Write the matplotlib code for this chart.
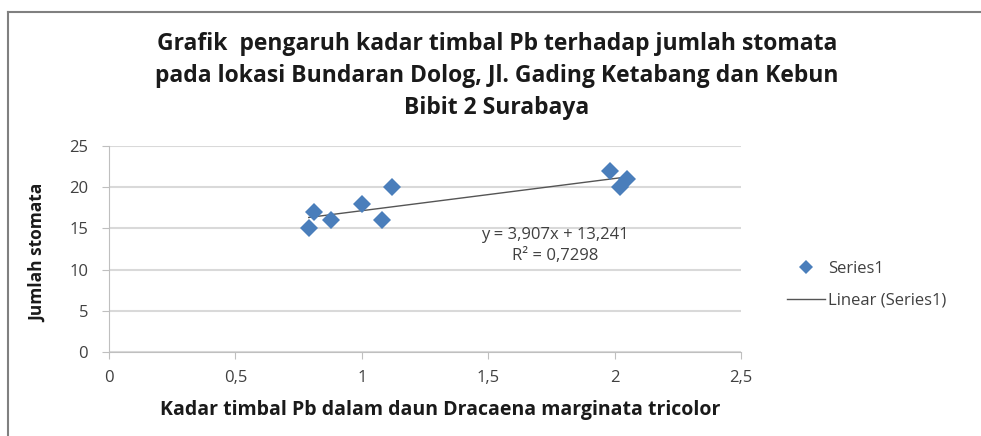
import numpy as np
import matplotlib.pyplot as plt
from matplotlib.lines import Line2D

# Data
kadar_pb = [0.79, 0.81, 0.88, 1.00, 1.08, 1.12, 1.98, 2.02, 2.05]
jumlah_stomata = [15, 17, 16, 18, 16, 20, 22, 20, 21]
slope, intercept = 3.907, 13.241
x_ticks = [0, 0.5, 1, 1.5, 2, 2.5]
x_tick_labels = ["0", "0,5", "1", "1,5", "2", "2,5"]
y_ticks = [0, 5, 10, 15, 20, 25]

plt.rcParams['font.family'] = ['Open Sans', 'DejaVu Sans']

fig = plt.figure(figsize=(9.81, 4.36), dpi=100)
ax = fig.add_axes([109 / 981, 1 - 352 / 436, 632 / 981, 206 / 436])

# Titik data dan garis tren
ax.plot(kadar_pb, jumlah_stomata, 'D', color='#4a7ebb', markersize=9,
        markeredgewidth=0, zorder=3)
xt = np.array([min(kadar_pb), max(kadar_pb)])
ax.plot(xt, slope * xt + intercept, color='#555555', linewidth=1, zorder=2)

ax.set_xlim(0, 2.5)
ax.set_ylim(0, 25)
ax.set_xticks(x_ticks)
ax.set_xticklabels(x_tick_labels)
ax.set_yticks(y_ticks)
ax.grid(axis='y', color='#d9d9d9', linewidth=1.5)
ax.set_axisbelow(True)
for s in ['top', 'right']:
    ax.spines[s].set_visible(False)
for s in ['left', 'bottom']:
    ax.spines[s].set_color('#bfbfbf')
ax.tick_params(colors='#bfbfbf', labelcolor='#404040', labelsize=12,
               length=5, direction='out')
ax.tick_params(axis='x', pad=8)
ax.tick_params(axis='y', pad=10)

ax.text(1.764, 14.2, "y = 3,907x + 13,241", ha='center', va='center',
        fontsize=12, color='#404040')
ax.text(1.764, 11.6, "R² = 0,7298", ha='center', va='center',
        fontsize=12, color='#404040')

# Judul dan label sumbu
fig.text(497 / 981, 1 - 76 / 436,
         "Grafik  pengaruh kadar timbal Pb terhadap jumlah stomata\n"
         "pada lokasi Bundaran Dolog, Jl. Gading Ketabang dan Kebun\n"
         "Bibit 2 Surabaya",
         ha='center', va='center', fontsize=16.5, fontweight='bold',
         linespacing=1.45, color='#1a1a1a')
fig.text(38 / 981, 1 - 253 / 436, "Jumlah stomata", rotation=90,
         ha='center', va='center', fontsize=12.5, fontweight='bold',
         color='#1a1a1a')
fig.text(440 / 981, 1 - 410 / 436,
         "Kadar timbal Pb dalam daun Dracaena marginata tricolor",
         ha='center', va='center', fontsize=14, fontweight='bold',
         color='#1a1a1a')

# Legenda
handles = [Line2D([], [], marker='D', linestyle='none', color='#4a7ebb',
                  markersize=7.5, markeredgewidth=0),
           Line2D([], [], color='#555555', linewidth=1)]
fig.legend(handles, ["Series1", "Linear (Series1)"],
           loc='center left', bbox_to_anchor=(772 / 981, 1 - 285 / 436),
           frameon=False, fontsize=12, labelspacing=0.95, handlelength=2.3,
           handletextpad=0.15, labelcolor='#404040')

# Bingkai area grafik
fig.add_artist(Line2D([8 / 981, 8 / 981], [0, 1 - 12 / 436],
                      transform=fig.transFigure, color='#808080', linewidth=1.5))
fig.add_artist(Line2D([8 / 981, 1], [1 - 12 / 436, 1 - 12 / 436],
                      transform=fig.transFigure, color='#808080', linewidth=1.5))

fig.savefig("out.png", dpi=100)
